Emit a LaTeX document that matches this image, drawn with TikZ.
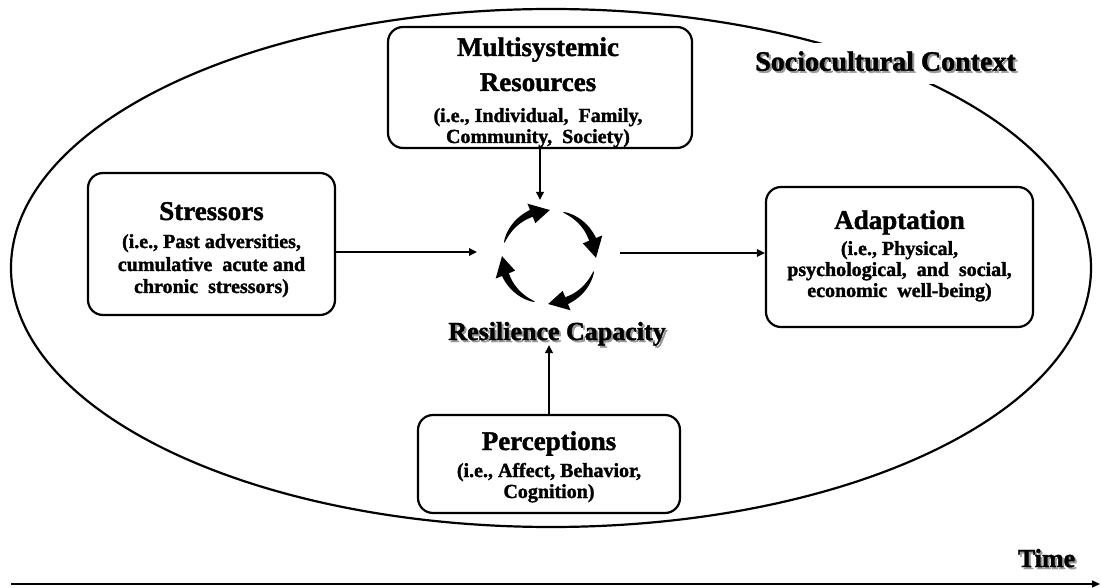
\documentclass[tikz,border=0pt]{standalone}
\usepackage{fontspec}
\setmainfont{Liberation Serif}[BoldFeatures={FakeBold=1.5}]
\usetikzlibrary{arrows.meta}
\begin{document}
\begin{tikzpicture}[x=1pt,y=1pt,
  box/.style={draw, line width=2.2pt, rounded corners=15pt, fill=white, inner sep=0pt},
  ttl/.style={anchor=base, font=\fontsize{27}{27}\selectfont\bfseries, inner sep=0pt},
  sub/.style={anchor=base, font=\fontsize{20}{20}\selectfont\bfseries, inner sep=0pt},
  big/.style={anchor=base, font=\fontsize{28}{28}\selectfont\bfseries, inner sep=0pt},
  shd/.style={text=black!40},
  conn/.style={line width=1.8pt, -{Triangle[length=8pt,width=7.5pt]}},
]
\useasboundingbox (0,0) rectangle (1101,-588);
% context ellipse
\draw[line width=2.2pt] (551,-268) ellipse [x radius=540, y radius=259];
% sociocultural label (white backing breaks the ellipse)
\node[big, shd, fill=white, text height=19pt, text depth=0pt, inner xsep=4pt, inner ysep=11pt] (soc-sh) at (887.5,-72.7) {Sociocultural Context};
\node[big] (soc) at (885.5,-70.7) {Sociocultural Context};
% boxes
\node[box, minimum width=304pt, minimum height=121pt] (multi) at (540,-87.5) {};
\node[box, minimum width=247pt, minimum height=142pt] (stress) at (211.5,-244) {};
\node[box, minimum width=267pt, minimum height=140pt] (adapt) at (899.5,-257) {};
\node[box, minimum width=262pt, minimum height=98pt] (percep) at (549,-464) {};
% box texts
\node[ttl] (multi-t1) at (538,-56) {Multisystemic};
\node[ttl] (multi-t2) at (538,-91) {Resources};
\node[sub] (multi-s1) at (538,-122) {(i.e., Individual,\ \ Family,};
\node[sub] (multi-s2) at (538,-143) {Community,\ \ Society)};
\node[ttl] (stress-t) at (211.5,-220) {Stressors};
\node[sub] (stress-s1) at (211.5,-248) {(i.e., Past adversities,};
\node[sub] (stress-s2) at (211.5,-271) {cumulative\ \ acute and};
\node[sub] (stress-s3) at (211.5,-293) {chronic\ \ stressors)};
\node[ttl] (adapt-t) at (899.5,-229) {Adaptation};
\node[sub] (adapt-s1) at (899.5,-255) {(i.e., Physical,};
\node[sub] (adapt-s2) at (899.5,-276) {psychological,\ \ and\ \ social,};
\node[sub] (adapt-s3) at (899.5,-297) {economic\ \ well-being)};
\node[ttl] (percep-t) at (549,-450) {Perceptions};
\node[sub] (percep-s1) at (549,-477) {(i.e., Affect, Behavior,};
\node[sub] (percep-s2) at (549,-498) {Cognition)};
% resilience cycle
\foreach \k in {0,1,2,3}{
  \pgfmathsetmacro\ta{162-90*\k}
  \pgfmathsetmacro\tb{112-90*\k}
  \pgfmathsetmacro\tc{89-90*\k}
  \fill[shift={(549,-257)}]
    plot[domain=\ta:\tb, samples=18] (\x:{47.3+3.4*((\x-\ta)/(\tb-\ta))^0.7})
    -- (\tb:57.5) -- (\tc:47) -- (\tb:36.5)
    -- plot[domain=\tb:\ta, samples=18] (\x:{46.7-3.4*((\x-\ta)/(\tb-\ta))^0.7})
    -- cycle;
}
\node[ttl, shd, font=\fontsize{26}{26}\selectfont\bfseries] (res-sh) at (559,-342) {Resilience Capacity};
\node[ttl, font=\fontsize{26}{26}\selectfont\bfseries] (res) at (557,-340) {Resilience Capacity};
% connectors
\coordinate (cyc-top) at (540,-200);
\coordinate (cyc-left) at (477,-252);
\coordinate (cyc-right) at (620,-253);
\coordinate (cyc-bot) at (549,-345);
\draw[conn] (multi.south) -- (cyc-top);
\draw[conn] (stress.east |- cyc-left) -- (cyc-left);
\draw[conn] (cyc-right) -- (adapt.west |- cyc-right);
\draw[conn] (percep.north) -- (cyc-bot);
% time axis
\coordinate (t0) at (11,-584);
\coordinate (t1) at (1100,-584);
\draw[line width=1.4pt, -{Triangle[length=8pt,width=7pt]}] (t0) -- (t1);
\node[ttl, shd, font=\fontsize{26}{26}\selectfont\bfseries] (time-sh) at (1048.5,-569) {Time};
\node[ttl, font=\fontsize{26}{26}\selectfont\bfseries] (time) at (1046.5,-567) {Time};
\end{tikzpicture}
\end{document}
